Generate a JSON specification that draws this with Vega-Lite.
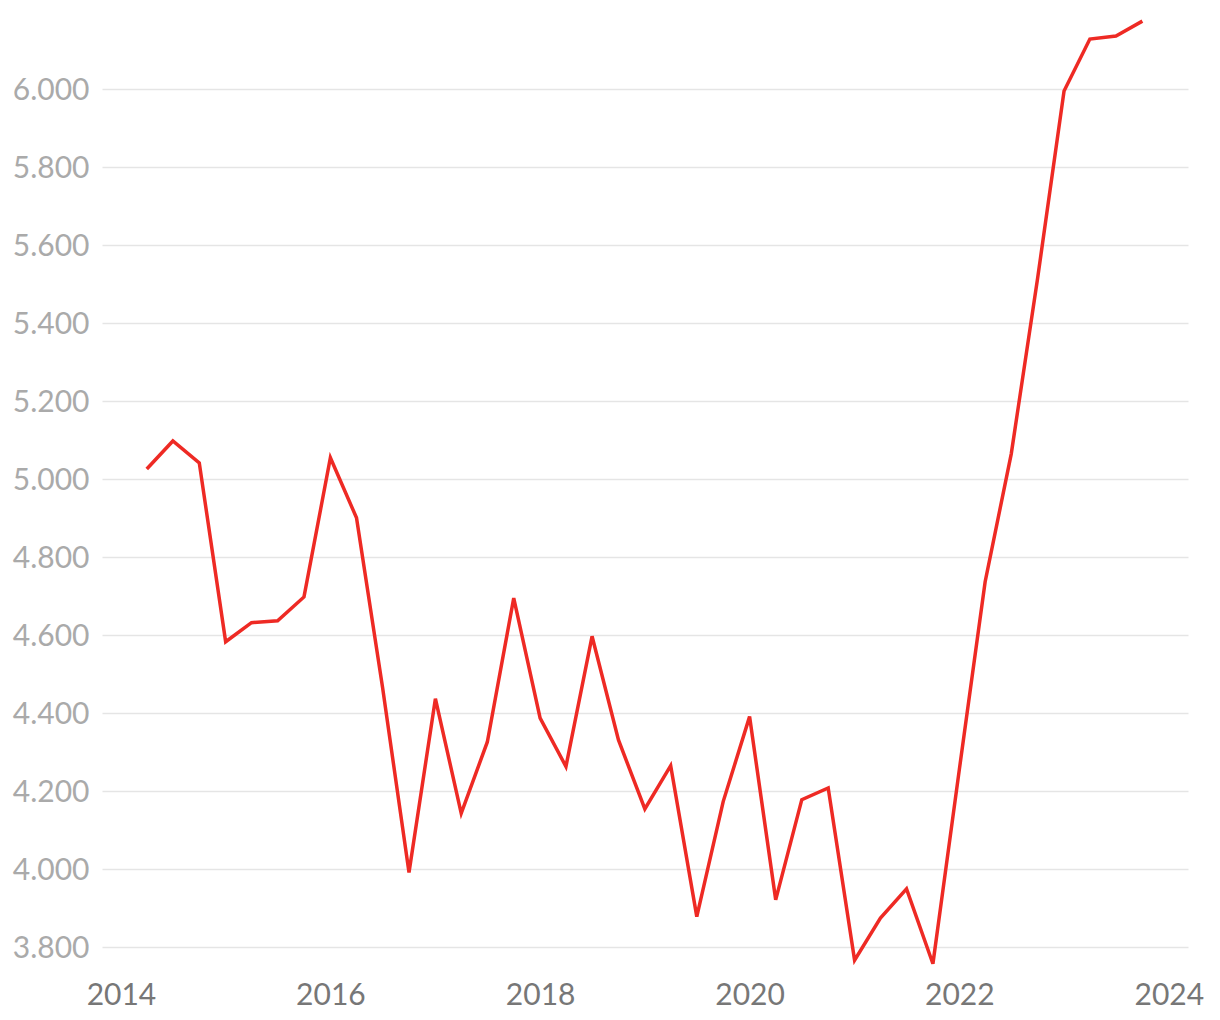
{
  "$schema": "https://vega.github.io/schema/vega-lite/v6.json",
  "width": 1086,
  "height": 959,
  "autosize": "none",
  "padding": {"left": 102, "top": 11, "right": 32, "bottom": 50},
  "background": "white",
  "config": {"view": {"stroke": null}, "font": "Lato"},
  "data": {"values": [
    {"date": "2014-04-01", "value": 5025},
    {"date": "2014-07-01", "value": 5097},
    {"date": "2014-10-01", "value": 5041},
    {"date": "2015-01-01", "value": 4582},
    {"date": "2015-04-01", "value": 4631},
    {"date": "2015-07-01", "value": 4636},
    {"date": "2015-10-01", "value": 4697},
    {"date": "2016-01-01", "value": 5054},
    {"date": "2016-04-01", "value": 4900},
    {"date": "2016-07-01", "value": 4464},
    {"date": "2016-10-01", "value": 3990},
    {"date": "2017-01-01", "value": 4436},
    {"date": "2017-04-01", "value": 4142},
    {"date": "2017-07-01", "value": 4325},
    {"date": "2017-10-01", "value": 4694},
    {"date": "2018-01-01", "value": 4386},
    {"date": "2018-04-01", "value": 4262},
    {"date": "2018-07-01", "value": 4596},
    {"date": "2018-10-01", "value": 4330},
    {"date": "2019-01-01", "value": 4153},
    {"date": "2019-04-01", "value": 4264},
    {"date": "2019-07-01", "value": 3877},
    {"date": "2019-10-01", "value": 4172},
    {"date": "2020-01-01", "value": 4390},
    {"date": "2020-04-01", "value": 3920},
    {"date": "2020-07-01", "value": 4177},
    {"date": "2020-10-01", "value": 4207},
    {"date": "2021-01-01", "value": 3765},
    {"date": "2021-04-01", "value": 3873},
    {"date": "2021-07-01", "value": 3948},
    {"date": "2021-10-01", "value": 3756},
    {"date": "2022-01-01", "value": 4254},
    {"date": "2022-04-01", "value": 4736},
    {"date": "2022-07-01", "value": 5064},
    {"date": "2022-10-01", "value": 5515},
    {"date": "2023-01-01", "value": 5995},
    {"date": "2023-04-01", "value": 6128},
    {"date": "2023-07-01", "value": 6136},
    {"date": "2023-10-01", "value": 6174}
  ]},
  "mark": {"type": "line", "color": "#EE2A24", "strokeWidth": 3.5, "strokeJoin": "miter"},
  "encoding": {
    "x": {
      "field": "date",
      "type": "temporal",
      "scale": {
        "type": "utc",
        "domain": [
          {"year": 2013, "month": 10, "date": 27, "utc": true},
          {"year": 2024, "month": 3, "date": 8, "utc": true}
        ]
      },
      "axis": {
        "title": null,
        "format": "%Y",
        "formatType": "utc",
        "values": [
          {"year": 2014, "month": 1, "date": 1, "utc": true},
          {"year": 2016, "month": 1, "date": 1, "utc": true},
          {"year": 2018, "month": 1, "date": 1, "utc": true},
          {"year": 2020, "month": 1, "date": 1, "utc": true},
          {"year": 2022, "month": 1, "date": 1, "utc": true},
          {"year": 2024, "month": 1, "date": 1, "utc": true}
        ],
        "grid": false,
        "domain": false,
        "ticks": false,
        "labelFontSize": 30,
        "labelFontWeight": 400,
        "labelColor": "#777777",
        "labelPadding": 10,
        "labelFlush": false,
        "labelOverlap": false
      }
    },
    "y": {
      "field": "value",
      "type": "quantitative",
      "scale": {"domain": [3740, 6200], "nice": false, "zero": false},
      "axis": {
        "title": null,
        "values": [3800, 4000, 4200, 4400, 4600, 4800, 5000, 5200, 5400, 5600, 5800, 6000],
        "labelExpr": "replace(format(datum.value, ','), ',', '.')",
        "grid": true,
        "gridColor": "#e5e5e5",
        "gridWidth": 1.5,
        "domain": false,
        "ticks": false,
        "labelFontSize": 30,
        "labelFontWeight": 400,
        "labelColor": "#aaaaaa",
        "labelPadding": 13,
        "labelOffset": 2,
        "labelFlush": false,
        "labelOverlap": false
      }
    }
  }
}
